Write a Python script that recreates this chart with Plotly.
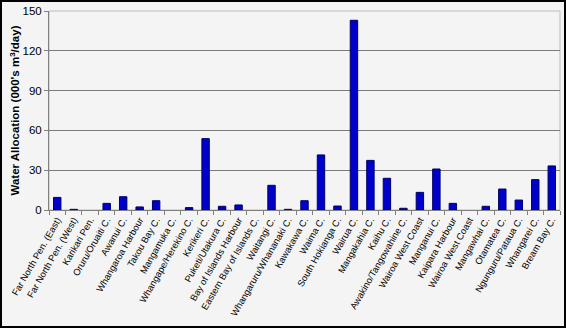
import plotly.graph_objects as go

categories = [
    "Far North Pen. (East)", "Far North Pen. (West)", "Karikari Pen.", "Oruru/Oruaiti C.",
    "Awanui C.", "Whangaroa Harbour", "Takou Bay C.", "Mangamuka C.",
    "Whangape/Herekino C.", "Kerikeri C.", "Puketi/Utakura C.", "Bay of Islands Harbour",
    "Eastern Bay of Islands C.", "Waitangi C.", "Whangaruru/Whananaki C.", "Kawakawa C.",
    "Waima C.", "South Hokianga C.", "Wairua C.", "Mangakahia C.", "Kaihu C.",
    "Awakino/Tangowahine C.", "Wairoa West Coast", "Manganui C.", "Kaipara Harbour",
    "Wairoa West Coast", "Mangawhai C.", "Otamatea C.", "Ngunguru/Pataua C.",
    "Whangarei C.", "Bream Bay C.",
]
values = [
    9.5, 0.5, 0, 5, 10, 2.3, 7, 0, 1.8, 53.8, 2.8, 3.8, 0, 18.6, 0.5, 7,
    41.5, 3, 143, 37.4, 23.9, 1.3, 13.3, 30.9, 5, 0, 2.8, 15.8, 7.5, 22.9, 33.2,
]
y_ticks = [0, 30, 60, 90, 120, 150]

positions = list(range(len(categories)))
outline_widths = [1 if v > 0 else 0 for v in values]

fig = go.Figure(go.Bar(
    x=positions, y=values,
    marker=dict(color="#0000CC", line=dict(color="#000066", width=outline_widths)),
    width=0.45,
))

W, H = 566, 328
ml, mr, mt, mb = 49, 6, 11, 118
pw, ph = W - ml - mr, H - mt - mb

fig.update_layout(
    width=W, height=H,
    margin=dict(l=ml, r=mr, t=mt, b=mb, autoexpand=False),
    paper_bgcolor="#F4F4F4", plot_bgcolor="#F4F4F4",
    font=dict(family="Liberation Sans, Arial, sans-serif", color="#000000", size=11),
    showlegend=False,
    xaxis=dict(
        range=[-0.5, len(categories) - 0.5], automargin=False,
        tickmode="array", tickvals=positions, ticktext=categories,
        tickangle=-60, ticks="", showgrid=False, zeroline=False,
        showline=True, linecolor="#808080", linewidth=1,
        tickfont=dict(size=9.3),
        minor=dict(tick0=0.5, dtick=1, ticks="outside", ticklen=4,
                   tickcolor="#808080", showgrid=False),
    ),
    yaxis=dict(
        range=[0, 150], tickmode="array", tickvals=y_ticks, automargin=False,
        ticks="outside", ticklen=4, tickcolor="#808080",
        showgrid=True, gridcolor="#7a7a7a", gridwidth=1,
        showline=True, linecolor="#808080", linewidth=1, zeroline=False,
        tickfont=dict(size=11.5),
    ),
    annotations=[
        dict(text="<b>Water Allocation (000's m<sup>3</sup>/day)</b>",
             xref="paper", yref="paper", x=-(ml - 14) / pw, y=0.5,
             xanchor="center", yanchor="middle", textangle=-90,
             showarrow=False, font=dict(size=11.5)),
    ],
    shapes=[
        dict(type="rect", xref="paper", yref="paper", x0=0, x1=1, y0=0, y1=1,
             line=dict(color="#BBBBBB", width=1), layer="below"),
        dict(type="rect", xref="paper", yref="paper",
             x0=-(ml - 1) / pw, x1=1 + (mr - 1) / pw,
             y0=-(mb - 1) / ph, y1=1 + (mt - 1) / ph,
             line=dict(color="#000000", width=2)),
    ],
)

fig.write_html("out.html")
